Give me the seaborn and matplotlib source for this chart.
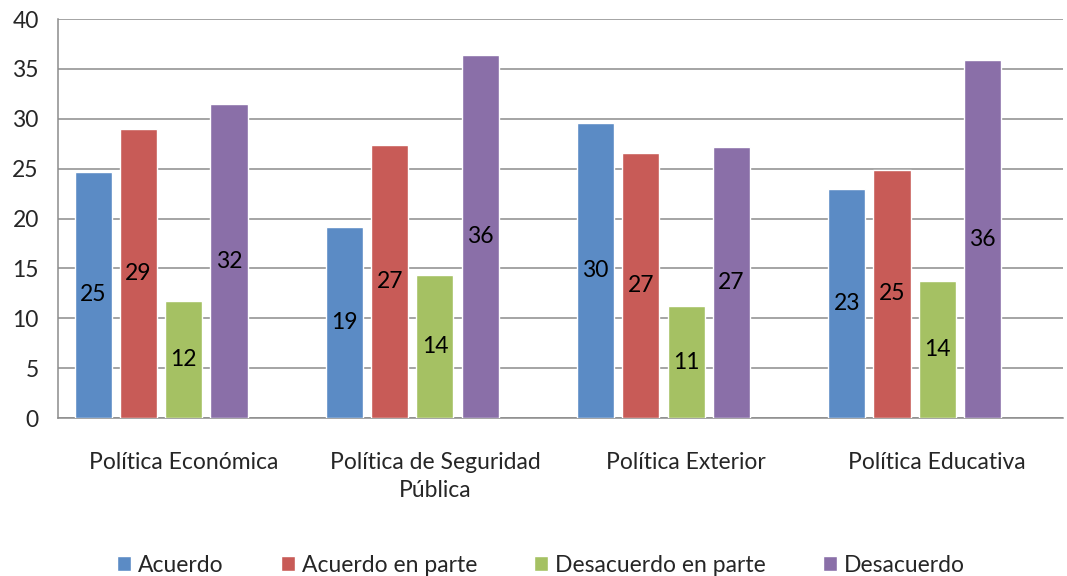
import pandas as pd
import seaborn as sns
import matplotlib.pyplot as plt
from matplotlib.patches import Patch

# data
categories = ['Política Económica', 'Política de Seguridad\nPública', 'Política Exterior', 'Política Educativa']
series = ['Acuerdo', 'Acuerdo en parte', 'Desacuerdo en parte', 'Desacuerdo']
acuerdo = [24.7, 19.2, 29.6, 23.0]
acuerdo_parte = [29.0, 27.4, 26.6, 24.9]
desacuerdo_parte = [11.7, 14.3, 11.2, 13.7]
desacuerdo = [31.5, 36.4, 27.2, 35.9]
colors = ['#5B8BC5', '#C85B57', '#A5C163', '#8A6FA8']

rows = []
for s, vals in zip(series, [acuerdo, acuerdo_parte, desacuerdo_parte, desacuerdo]):
    for c, v in zip(categories, vals):
        rows.append({'cat': c, 'serie': s, 'valor': v})
df = pd.DataFrame(rows)

sns.set_style('white')
plt.rcParams['font.family'] = ['Lato', 'DejaVu Sans']

fig = plt.figure(figsize=(10.67, 5.76), dpi=100)
ax = fig.add_axes([0.0546, 0.274, 0.9414, 0.693])

# an empty fifth hue slot keeps the Excel-style left offset of each group
hue_order = series + ['_vacio']
palette = dict(zip(hue_order, colors + ['white']))
sns.barplot(data=df, x='cat', y='valor', hue='serie', order=categories,
            hue_order=hue_order, palette=palette, width=0.9, gap=0.18,
            saturation=1, legend=False, ax=ax, zorder=3)

for cont in ax.containers:
    for bar in cont:
        h = bar.get_height()
        if h > 0:
            ax.text(bar.get_x() + bar.get_width() / 2, h / 2, f'{h:.0f}',
                    ha='center', va='center', fontsize=16.5, color='black', zorder=4)

ax.set_ylim(0, 40)
ax.set_yticks(range(0, 41, 5))
ax.set_xlim(-0.5, 3.5)
ax.yaxis.grid(True, color='#8c8c8c', linewidth=1.1)
ax.set_axisbelow(True)
for side in ['top', 'right']:
    ax.spines[side].set_visible(False)
for side in ['left', 'bottom']:
    ax.spines[side].set_color('#8c8c8c')
    ax.spines[side].set_linewidth(1.1)
ax.tick_params(axis='y', length=0, pad=14, labelsize=16.5)
ax.tick_params(axis='x', length=0, pad=24, labelsize=16.5)
for t in ax.get_xticklabels():
    t.set_linespacing(1.45)
ax.set_xlabel('')
ax.set_ylabel('')

handles = [Patch(facecolor=c, label=s) for c, s in zip(colors, series)]
fig.legend(handles=handles, loc='lower center', bbox_to_anchor=(0.507, -0.035), ncol=4,
           frameon=False, fontsize=16.5, handlelength=0.6, handleheight=0.6,
           handletextpad=0.3, columnspacing=2.5)

fig.savefig('out.png', dpi=100)
